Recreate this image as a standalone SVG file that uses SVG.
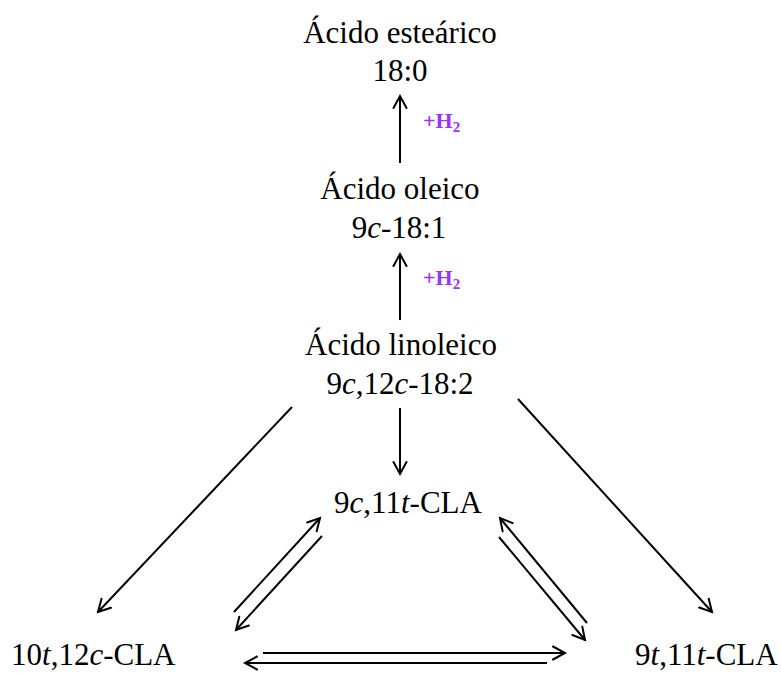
<svg xmlns="http://www.w3.org/2000/svg" width="781" height="673" viewBox="0 0 781 673">
<style>
text{font-family:"Liberation Serif","Times New Roman",serif;font-size:31px;fill:#000}
.mid{text-anchor:middle}
.h2{font-weight:bold;font-size:22px;fill:#9933ff}
.c line{stroke:#000;stroke-width:2;fill:none;marker-end:url(#ah)}
</style>
<defs>
<marker id="ah" markerUnits="userSpaceOnUse" markerWidth="20" markerHeight="20" viewBox="-14 -10 20 20" refX="0" refY="0" orient="auto" overflow="visible">
<path d="M-12,-6.5 L0,0 L-12,6.5" fill="none" stroke="#000" stroke-width="2" stroke-linecap="round" stroke-linejoin="miter"/>
</marker>
</defs>
<rect width="781" height="673" fill="#fff"/>
<g id="estearico"><text class="mid" x="400" y="43">Ácido esteárico</text><text class="mid" x="400" y="81">18:0</text></g>
<g id="oleico"><text class="mid" x="400" y="199">Ácido oleico</text><text class="mid" x="399" y="238">9<tspan font-style="italic">c</tspan>-18:1</text></g>
<g id="linoleico"><text class="mid" x="401" y="355">Ácido linoleico</text><text class="mid" x="400" y="394">9<tspan font-style="italic">c</tspan>,12<tspan font-style="italic">c</tspan>-18:2</text></g>
<g id="cla911"><text class="mid" x="408" y="513">9<tspan font-style="italic">c</tspan>,11<tspan font-style="italic">t</tspan>-CLA</text></g>
<g id="cla1012"><text x="11" y="665">10<tspan font-style="italic">t</tspan>,12<tspan font-style="italic">c</tspan>-CLA</text></g>
<g id="cla911tt"><text x="635" y="665">9<tspan font-style="italic">t</tspan>,11<tspan font-style="italic">t</tspan>-CLA</text></g>
<g id="labels">
<text class="h2" x="423" y="128">+H<tspan font-size="15" dy="4">2</tspan></text>
<text class="h2" x="423" y="285">+H<tspan font-size="15" dy="4">2</tspan></text>
</g>
<g id="connectors" class="c">
<line x1="400" y1="163" x2="400" y2="96"/>
<line x1="400" y1="320" x2="400" y2="254"/>
<line x1="400" y1="408" x2="400" y2="474"/>
<line x1="292" y1="407" x2="98" y2="612"/>
<line x1="518" y1="399" x2="712" y2="612"/>
<line x1="234" y1="612" x2="320" y2="518"/>
<line x1="322" y1="536" x2="236" y2="630"/>
<line x1="587" y1="623" x2="500" y2="518"/>
<line x1="499" y1="537" x2="585" y2="640"/>
<line x1="263" y1="653" x2="565" y2="653"/>
<line x1="547" y1="663" x2="245" y2="663"/>
</g>
</svg>
